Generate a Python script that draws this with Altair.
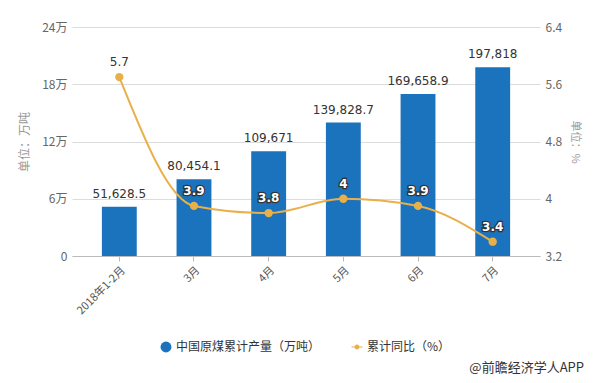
import altair as alt
import pandas as pd

months = ["2018年1-2月", "3月", "4月", "5月", "6月", "7月"]
output = [51628.5, 80454.1, 109671, 139828.7, 169658.9, 197818]
yoy = [5.7, 3.9, 3.8, 4.0, 3.9, 3.4]
series_names = ["中国原煤累计产量（万吨）", "累计同比（%）"]
left_ticks = [0, 60000, 120000, 180000, 240000]
right_ticks = [3.2, 4.0, 4.8, 5.6, 6.4]
source = ["@前瞻经济学人APP"]

BLUE = "#1c73bd"
GOLD = "#e9b04a"
CJK = "Noto Sans CJK SC"
W, H = 468, 229
LINE_DOT = "M-1,-0.1H1V0.1H-1Z M-0.45,0 A0.45,0.45 0 1,1 0.45,0 A0.45,0.45 0 1,1 -0.45,0 Z"

df = pd.DataFrame({"month": months, "output": output, "yoy": yoy})

xenc = alt.X(
    "month:N", sort=months,
    scale=alt.Scale(paddingInner=0.533, paddingOuter=0.4),
    axis=alt.Axis(title=None, labelAngle=-45, labelFont=CJK, labelFontSize=11,
                  labelColor="#555", domainColor="#bbb", tickColor="#bbb",
                  tickSize=5, labelPadding=3, grid=False),
)

yleft = alt.Y(
    "output:Q", scale=alt.Scale(domain=[0, 240000], nice=False),
    axis=alt.Axis(values=left_ticks, title="单位：万吨", titleFont=CJK,
                  titleFontSize=12, titleColor="#999", titleFontWeight="normal",
                  titlePadding=10,
                  labelExpr="datum.value == 0 ? '0' : (datum.value / 10000) + '万'",
                  labelFont=CJK, labelFontSize=12, labelColor="#666",
                  labelPadding=5, tickSize=0, domain=False,
                  gridColor="#dcdcdc"),
)

bars = alt.Chart(df).mark_bar(color=BLUE).encode(x=xenc, y=yleft)

bar_text = alt.Chart(df).mark_text(
    baseline="bottom", dy=-6, font="DejaVu Sans", fontSize=12, color="#333"
).encode(x=alt.X("month:N", sort=months), y=alt.Y("output:Q"),
         text=alt.Text("output:Q", format=",.1~f"))

left_layer = alt.layer(bars, bar_text)

yright = alt.Y(
    "yoy:Q", scale=alt.Scale(domain=[3.2, 6.4], nice=False, zero=False),
    axis=alt.Axis(orient="right", values=right_ticks, title="单位：%",
                  titleFont=CJK, titleFontSize=11, titleColor="#999",
                  titleFontWeight="normal", titlePadding=8, titleAngle=90,
                  labelFont=CJK, labelFontSize=12, labelColor="#666",
                  labelPadding=5, tickSize=0, domain=False, grid=False,
                  labelExpr="format(datum.value, '.1~f')"),
)

line = alt.Chart(df).mark_line(
    interpolate="monotone", strokeWidth=2, color=GOLD).encode(
    x=alt.X("month:N", sort=months), y=yright)
points = alt.Chart(df).mark_point(filled=True, size=70, color=GOLD, opacity=1).encode(
    x=alt.X("month:N", sort=months), y=alt.Y("yoy:Q"))

low = alt.datum.yoy < 5
txt_outline = alt.Chart(df).transform_filter(low).mark_text(
    baseline="bottom", dy=-8, font="DejaVu Sans", fontSize=12, fontWeight="bold",
    fill="#333", stroke="#333", strokeWidth=2.5).encode(
    x=alt.X("month:N", sort=months), y=alt.Y("yoy:Q"),
    text=alt.Text("yoy:Q", format=".1~f"))
txt_white = alt.Chart(df).transform_filter(low).mark_text(
    baseline="bottom", dy=-8, font="DejaVu Sans", fontSize=12, fontWeight="bold",
    fill="white").encode(
    x=alt.X("month:N", sort=months), y=alt.Y("yoy:Q"),
    text=alt.Text("yoy:Q", format=".1~f"))
txt_high = alt.Chart(df).transform_filter(alt.datum.yoy >= 5).mark_text(
    baseline="bottom", dy=-8, font="DejaVu Sans", fontSize=12, color="#333").encode(
    x=alt.X("month:N", sort=months), y=alt.Y("yoy:Q"),
    text=alt.Text("yoy:Q", format=".1~f"))

right_layer = alt.layer(line, points, txt_outline, txt_white, txt_high)

legend_df = pd.DataFrame({"series": series_names})
leg = alt.Legend(title=None, orient="none", direction="horizontal",
                 legendX=88, legendY=314,
                 labelFont=CJK, labelFontSize=12, labelColor="#333",
                 symbolSize=120, columnPadding=30,
                 symbolStrokeWidth=0, symbolOpacity=1)
legend_layer = alt.Chart(legend_df).transform_filter("false").mark_point(
    filled=True, opacity=1).encode(
    color=alt.Color("series:N", scale=alt.Scale(domain=series_names, range=[BLUE, GOLD]), legend=leg),
    shape=alt.Shape("series:N", scale=alt.Scale(domain=series_names, range=["circle", LINE_DOT]), legend=leg),
)

src = alt.Chart(pd.DataFrame({"t": source})).mark_text(
    align="right", baseline="middle", font=CJK, fontSize=13, color="#333"
).encode(x=alt.value(W + 44), y=alt.value(H + 112), text="t:N")

chart = alt.layer(left_layer, right_layer, legend_layer, src).resolve_scale(y="independent").properties(
    width=W, height=H,
    autosize=alt.AutoSizeParams(type="none"),
    padding={"left": 64, "top": 19, "right": 45, "bottom": 119},
).configure_view(stroke=None)

chart.save("out.html", embed_options={"renderer": "svg", "actions": False})
